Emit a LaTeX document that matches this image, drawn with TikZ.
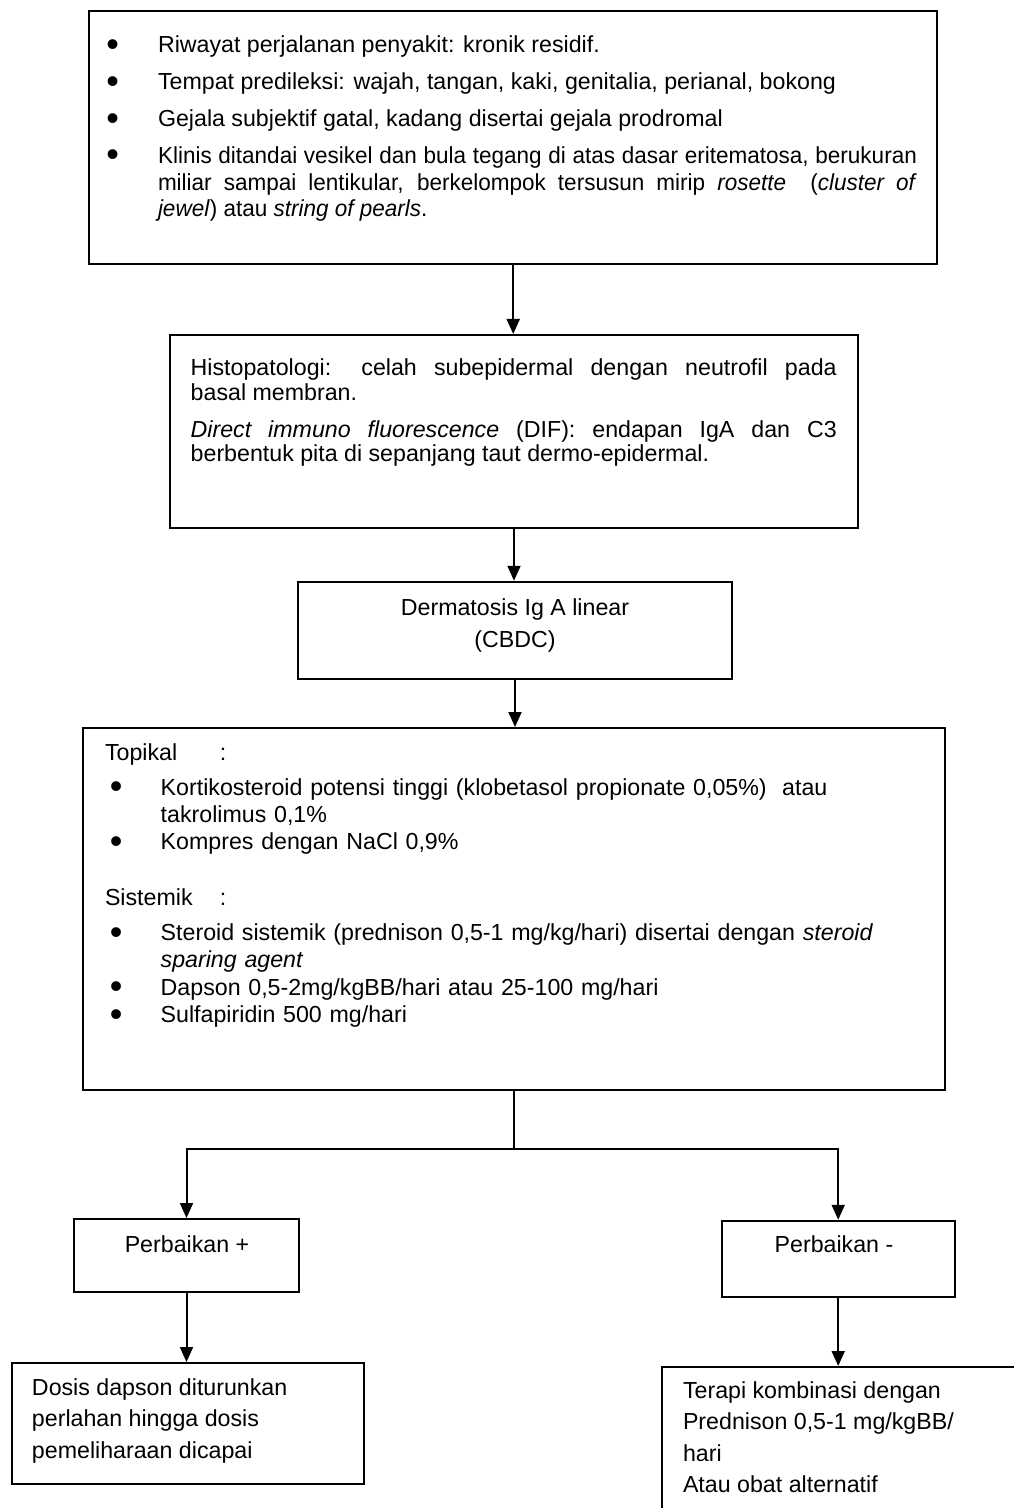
\documentclass[tikz,border=0pt]{standalone}
\usepackage{fontspec}
\setmainfont{Liberation Sans}
\usetikzlibrary{arrows.meta}

% body text size and helpers
\newcommand{\bodyfont}{\fontsize{11.6}{13.35pt}\selectfont}
\newcommand{\topstrut}{\rule{0pt}{9pt}}
\newcommand{\bigdot}{\smash{\raisebox{-1.8pt}{\scalebox{1.55}{\textbullet}}}}
% bullet point hanging left of the text column (top box)
\newcommand{\bpoint}[1]{\noindent\llap{\makebox[25.8pt][l]{\bigdot}}#1\par}
% bullet point with hanging indent (therapy box)
\newcommand{\titem}[1]{\par\noindent\hangindent=27.85pt\hangafter=1\makebox[27.85pt][l]{\hspace{2.4pt}\bigdot}#1\par}

\tikzset{
  box/.style={draw, line width=1pt, rectangle, inner sep=0pt},
  link/.style={line width=1pt, -{Triangle[length=7.5pt,width=6.5pt]}},
  wire/.style={line width=1pt},
  txt/.style={inner sep=0pt, outer sep=0pt, font=\bodyfont},
}

\begin{document}
\begin{tikzpicture}[x=0.5pt, y=-0.5pt]
\fill[white] (0,0) rectangle (1013,1508);
\useasboundingbox (0,0) rectangle (1013,1508);

% ---- frames ----
\node[box, minimum width=423.85pt, minimum height=126.65pt] (clinic)  at (513.2,137.4) {};
\node[box, minimum width=344pt,    minimum height=96.5pt]   (histo)   at (514,431.5) {};
\node[box, minimum width=217pt,    minimum height=48.65pt]  (dx)      at (515,630.4) {};
\node[box, minimum width=430.85pt, minimum height=181pt]    (therapy) at (514.2,909) {};
\node[box, minimum width=112.5pt,  minimum height=36.5pt]   (better)  at (186.5,1255.5) {};
\node[box, minimum width=116.5pt,  minimum height=38.15pt]  (worse)   at (838.2,1258.9) {};
\node[box, minimum width=176.15pt, minimum height=60.5pt]   (taper)   at (187.85,1423.5) {};
\node[box, minimum width=189.25pt, minimum height=86.5pt]   (combo)   at (850.75,1453.5) {};

% ---- texts ----
\node[txt, anchor=north west, text width=379.5pt, align=justify] (clinicT) at (158,35) {%
  \setlength{\parskip}{5.05pt}%
  \bpoint{\topstrut Riwayat perjalanan penyakit: kronik residif.}%
  \bpoint{Tempat predileksi: wajah, tangan, kaki, genitalia, perianal, bokong}%
  \bpoint{Gejala subjektif gatal, kadang disertai gejala prodromal}%
  \bpoint{\scalebox{0.97}[1]{\parbox[t]{391.2pt}{%
    Klinis ditandai vesikel dan bula tegang di atas dasar eritematosa, berukuran\linebreak
    miliar sampai lentikular, berkelompok tersusun mirip \textit{rosette}\ \ (\textit{cluster of}\linebreak
    \textit{jewel}) atau \textit{string of pearls}.}}}};

\node[txt, anchor=north west, text width=323pt, align=justify] (histoT) at (190.7,357) {%
  \fontsize{11.6}{12.5pt}\selectfont\lineskiplimit=-10pt\setlength{\parskip}{6pt}%
  \noindent\topstrut Histopatologi: celah subepidermal dengan neutrofil pada\linebreak
  basal membran.\par
  \noindent\textit{Direct immuno fluorescence} (DIF): endapan IgA dan C3\linebreak
  berbentuk pita di sepanjang taut dermo-epidermal.\par};

\node[txt, anchor=north, align=center, font={\fontsize{11.6}{16pt}\selectfont}] (dxT) at (515,597)
  {\topstrut Dermatosis Ig A linear\\(CBDC)};

\node[txt, anchor=north west, text width=415pt, align=left] (therapyT) at (105,742) {%
  \fontsize{11.6}{13.65pt}\selectfont\setlength{\parskip}{0pt}%
  \noindent\topstrut\makebox[57.5pt][l]{Topikal}:\par
  \vspace{3.85pt}%
  \titem{Kortikosteroid potensi tinggi (klobetasol propionate 0,05\%)\ \ atau\newline takrolimus 0,1\%}%
  \titem{Kompres dengan NaCl 0,9\%}%
  \vspace{14.35pt}%
  \noindent\makebox[57.5pt][l]{Sistemik}:\par
  \vspace{3.85pt}%
  \titem{Steroid sistemik (prednison 0,5-1 mg/kg/hari) disertai dengan \textit{steroid}\newline \textit{sparing agent}}%
  \titem{Dapson 0,5-2mg/kgBB/hari atau 25-100 mg/hari}%
  \titem{Sulfapiridin 500 mg/hari}};

\node[txt, anchor=base] (betterT) at (187,1252) {Perbaikan +};
\node[txt, anchor=base] (worseT)  at (834,1252) {Perbaikan -};

\node[txt, anchor=north west, align=left, font={\fontsize{11.6}{15.75pt}\selectfont}] (taperT) at (32,1377)
  {\topstrut Dosis dapson diturunkan\\perlahan hingga dosis\\pemeliharaan dicapai};
\node[txt, anchor=north west, align=left, font={\fontsize{11.6}{15.75pt}\selectfont}] (comboT) at (683,1380)
  {\topstrut Terapi kombinasi dengan\\Prednison 0,5-1 mg/kgBB/\\hari\\Atau obat alternatif};

% ---- connectors ----
\draw[link] (clinic.south) -- (clinic.south |- histo.north);
\draw[link] (histo.south) -- (histo.south |- dx.north);
\draw[link] (dx.south) -- (dx.south |- therapy.north);
\coordinate (level) at (0,1149);
\coordinate (split) at (therapy.south |- level);
\draw[wire] (therapy.south) -- (split);
\draw[link] (split) -| (better.north);
\draw[link] (split) -| (worse.north);
\draw[link] (better.south) -- (better.south |- taper.north);
\draw[link] (worse.south) -- (worse.south |- combo.north);
\end{tikzpicture}
\end{document}
